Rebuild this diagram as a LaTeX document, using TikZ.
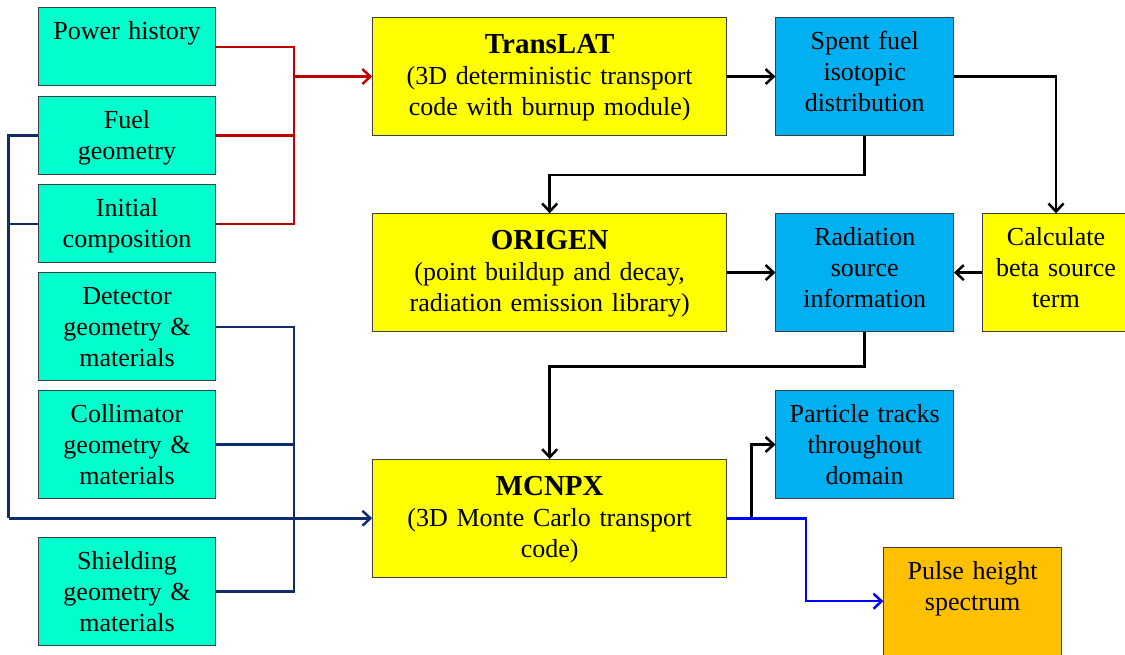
\documentclass[tikz,border=0pt]{standalone}
\usepackage{fontspec}
\setmainfont{Liberation Serif}
\usetikzlibrary{arrows.meta,positioning}
\definecolor{src}{HTML}{00FFCC}
\definecolor{prog}{HTML}{FFFF00}
\definecolor{data}{HTML}{00B0F0}
\definecolor{spec}{HTML}{FFC000}
\definecolor{edge}{HTML}{404040}
\definecolor{feed}{HTML}{C00000}
\definecolor{geo}{HTML}{102C6C}
\definecolor{ray}{HTML}{0000FF}
\newcommand{\titlefont}{\fontsize{29}{31}\selectfont\bfseries}

\begin{document}
\begin{tikzpicture}[x=1pt, y=-1pt, font=\fontsize{26}{31}\selectfont,
  box/.style={draw=edge, line width=1pt, inner xsep=0pt, inner ysep=10pt, text height=22pt, align=center, anchor=north},
  inbox/.style={box, fill=src, text width=177.5pt, text depth=#1},
  codebox/.style={box, fill=prog, text width=354pt, text height=26pt, text depth=71.5pt},
  outbox/.style={box, fill=data, text width=177.5pt, text depth=#1},
  wire/.style={line width=2.5pt},
  flow/.style={wire, -{Straight Barb[length=8pt,width=15pt]}}]
\useasboundingbox (0,0) rectangle (1125,654);
\clip (0,0) rectangle (1125,654);
% input data, left column
\node[inbox=36pt] (pwr) at (127,7.3) {Power history};
\node[inbox=36pt] (fuel) at (127,96) {Fuel\\geometry};
\node[inbox=36pt] (init) at (127,184.3) {Initial\\composition};
\node[inbox=66pt] (det) at (127,272.3) {Detector\\geometry \&\\materials};
\node[inbox=66pt] (coll) at (127,390) {Collimator\\geometry \&\\materials};
\node[inbox=66pt] (shld) at (127,537) {Shielding\\geometry \&\\materials};
% the three codes
\node[codebox] (trans) at (549.7,17.3) {{\titlefont TransLAT}\\(3D deterministic transport\\code with burnup module)};
\node[codebox] (orig) at (549.7,213.3) {{\titlefont ORIGEN}\\(point buildup and decay,\\radiation emission library)};
\node[codebox] (mcnpx) at (549.7,459) {{\titlefont MCNPX}\\(3D Monte Carlo transport\\code)};
% results
\node[outbox=75.5pt] (spent) at (864.7,17.3) {Spent fuel\\isotopic\\distribution};
\node[outbox=75.5pt] (rad) at (864.7,213.3) {Radiation\\source\\information};
\node[outbox=66pt] (part) at (864.7,390) {Particle tracks\\throughout\\domain};
\node[outbox=75.5pt, fill=prog, text width=148pt] (calc) at (1056,213.3) {Calculate\\beta source\\term};
\node[outbox=66pt, fill=spec] (pulse) at (972.6,546.7) {Pulse height\\spectrum};
% inputs into TransLAT (red)
\coordinate (rj) at ([xshift=-78.4pt]trans.west);
\draw[wire, feed] (pwr.east) -| (rj) (fuel.east) -- (fuel.east -| rj) (init.east) -| (rj);
\draw[flow, feed] (rj) -- (trans.west);
% geometry into MCNPX (navy)
\coordinate (nj) at ([xshift=-363.7pt]mcnpx.west);
\coordinate (nr) at ([xshift=-78.4pt]mcnpx.west);
\draw[wire, geo] (fuel.west) -| (nj) (init.west) -| (nj);
\draw[wire, geo] (det.east) -| (nr) (coll.east) -- (coll.east -| nr) (shld.east) -| (nr);
\draw[flow, geo] (nj) -- (mcnpx.west);
% chain of calculations
\draw[flow] (trans.east) -- (spent.west);
\draw[flow] (spent.east) -| (calc.north);
\draw[flow] (spent.south) -- ++(0,39) -| (orig.north);
\draw[flow] (orig.east) -- (rad.west);
\draw[flow] (calc.west) -- (rad.east);
\draw[flow] (rad.south) -- ++(0,34.5) -| (mcnpx.north);
\coordinate (mj) at ([xshift=24.3pt]mcnpx.east);
\draw[flow] (mj) |- (part.west);
\draw[flow, ray] (mcnpx.east) -- ++(79,0) |- (pulse.west);
\end{tikzpicture}
\end{document}
